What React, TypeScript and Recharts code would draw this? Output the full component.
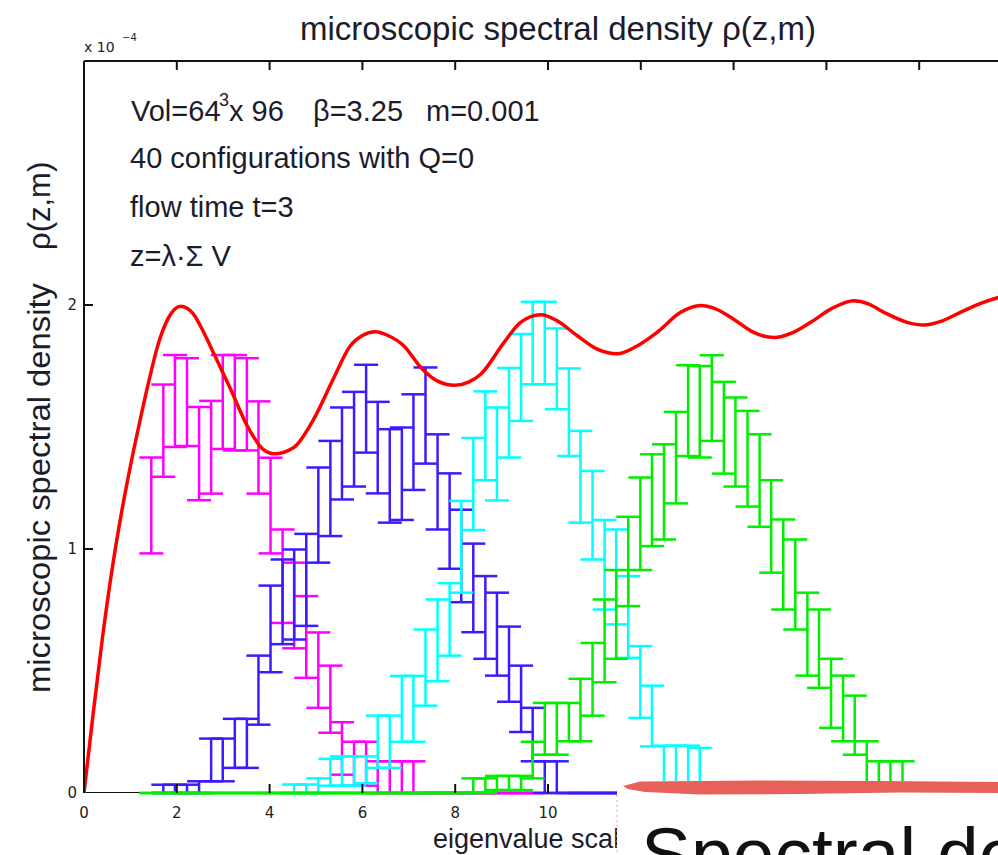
import React from 'react';
import { ComposedChart, Scatter, Line, XAxis, YAxis, ErrorBar } from 'recharts';

// bin centres of the histograms (eigenvalue scale z)
const binCentres = [
  1.45, 1.71, 1.96, 2.22, 2.48, 2.74, 2.99, 3.25, 3.51, 3.76,
  4.02, 4.28, 4.53, 4.79, 5.05, 5.31, 5.56, 5.82, 6.08, 6.33,
  6.59, 6.85, 7.10, 7.36, 7.62, 7.88, 8.13, 8.39, 8.65, 8.90,
  9.16, 9.42, 9.67, 9.93, 10.19, 10.45, 10.70, 10.96, 11.22, 11.47,
  11.73, 11.99, 12.24, 12.50, 12.76, 13.02, 13.27, 13.53, 13.79, 14.04,
  14.30, 14.56, 14.81, 15.07, 15.33, 15.59, 15.84, 16.10, 16.36, 16.61,
  16.87, 17.13, 17.38, 17.64, 17.90,
];

// 1st eigenvalue (magenta), starts at bin 0
const magentaStart = 0;
const magentaTop = [
  1.375, 1.674, 1.795, 1.782, 1.582, 1.607, 1.795, 1.795, 1.782, 1.605,
  1.374, 1.080, 0.944, 0.807, 0.658, 0.522, 0.290, 0.210, 0.210, 0.130,
  0.130, 0.130, 0.130, 0, 0, 0, 0, 0, 0, 0, 0, 0, 0,
];
const magentaBottom = [
  0.982, 1.296, 1.418, 1.422, 1.200, 1.227, 1.410, 1.404, 1.404, 1.227,
  0.982, 0.697, 0.593, 0.472, 0.349, 0.247, 0.075, 0.030, 0.030, 0,
  0, 0, 0, 0, 0, 0, 0, 0, 0, 0, 0, 0, 0,
];

// 2nd eigenvalue (blue), starts at bin 1
const blueStart = 1;
const blueTop = [
  0.034, 0.034, 0.034, 0.048,
  0.223, 0.223, 0.304, 0.304, 0.563, 0.850, 0.957, 0.998, 1.062, 1.334,
  1.443, 1.580, 1.644, 1.755, 1.603, 1.491, 1.498, 1.634, 1.744, 1.470,
  1.310, 1.161, 1.022, 0.889, 0.821, 0.682, 0.522, 0.349, 0.130, 0.130,
  0, 0, 0, 0, 0, 0, 0, 0, 0, 0, 0,
];
const blueBottom = [
  0, 0, 0, 0,
  0.048, 0.048, 0.103, 0.103, 0.280, 0.495, 0.610, 0.629, 0.685, 0.944,
  1.053, 1.203, 1.256, 1.395, 1.228, 1.108, 1.119, 1.242, 1.350, 1.080,
  0.919, 0.782, 0.659, 0.550, 0.481, 0.374, 0.250, 0.130, 0, 0,
  0, 0, 0, 0, 0, 0, 0, 0, 0, 0, 0,
];

// 3rd eigenvalue (cyan), starts at bin 12
const cyanStart = 12;
const cyanTop = [
  0.035, 0.035, 0.060, 0.140, 0.150, 0.150, 0.150, 0.317, 0.317, 0.480,
  0.480, 0.670, 0.793, 0.860, 1.197, 1.455, 1.646, 1.580, 1.742, 1.881,
  2.013, 2.013, 1.904, 1.740, 1.484, 1.320, 1.119, 1.080, 0.889, 0.602,
  0.440, 0.194, 0.194, 0.194, 0.185,
];
const cyanBottom = [
  0, 0, 0, 0.030, 0.030, 0.030, 0.040, 0.103, 0.103, 0.210,
  0.210, 0.358, 0.458, 0.563, 0.821, 1.078, 1.282, 1.199, 1.375, 1.525,
  1.675, 1.675, 1.573, 1.381, 1.108, 0.957, 0.752, 0.691, 0.554, 0.308,
  0.191, 0, 0, 0, 0,
];

// 4th eigenvalue (green), starts at bin 0
const greenStart = 0;
const greenTop = [
  0, 0, 0, 0, 0, 0, 0, 0, 0, 0, 0, 0, 0, 0, 0, 0, 0, 0, 0, 0, 0, 0, 0, 0, 0, 0, 0,
  0.060, 0.060, 0.070, 0.070, 0.070, 0.210, 0.369, 0.369, 0.369, 0.468,
  0.615, 0.793, 0.914, 1.132, 1.293, 1.388, 1.429, 1.562, 1.753, 1.750,
  1.794, 1.685, 1.621, 1.566, 1.470, 1.282, 1.121, 1.039, 0.821, 0.752,
  0.550, 0.481, 0.399, 0.212, 0.130, 0.130, 0.130,
];
const greenBottom = [
  0, 0, 0, 0, 0, 0, 0, 0, 0, 0, 0, 0, 0, 0, 0, 0, 0, 0, 0, 0, 0, 0, 0, 0, 0, 0, 0,
  0, 0, 0.012, 0.012, 0.012, 0.060, 0.157, 0.157, 0.212, 0.212,
  0.317, 0.454, 0.550, 0.766, 0.914, 1.012, 1.039, 1.187, 1.381, 1.375,
  1.443, 1.309, 1.256, 1.174, 1.091, 0.903, 0.752, 0.670, 0.481, 0.431,
  0.267, 0.212, 0.157, 0.020, 0, 0, 0,
];

// RMT prediction (red curve)
const redZ = [
  0, 0.2, 0.4, 0.6, 0.8, 1.0, 1.2, 1.4, 1.6, 1.8,
  2.08, 2.35, 2.6, 2.8, 3.16, 3.52, 3.85, 4.1, 4.52, 4.95,
  5.38, 5.74, 6.0, 6.28, 6.55, 6.89, 7.26, 7.61, 7.99, 8.3,
  8.55, 9.05, 9.41, 9.85, 10.2, 10.63, 11.06, 11.49, 11.9, 12.35,
  12.86, 13.29, 13.6, 14.0, 14.43, 14.87, 15.25, 15.66, 16.16, 16.59,
  16.9, 17.24, 17.74, 18.1, 18.5, 18.89, 19.3, 19.71,
];
const redRho = [
  0, 0.33, 0.64, 0.91, 1.14, 1.34, 1.52, 1.69, 1.84, 1.94,
  1.995, 1.965, 1.88, 1.80, 1.655, 1.504, 1.41, 1.39, 1.416, 1.532,
  1.70, 1.833, 1.875, 1.89, 1.875, 1.833, 1.744, 1.689, 1.671, 1.685,
  1.716, 1.846, 1.929, 1.96, 1.935, 1.874, 1.819, 1.80, 1.83, 1.888,
  1.97, 1.998, 1.985, 1.942, 1.888, 1.867, 1.885, 1.929, 1.99, 2.017,
  2.005, 1.970, 1.929, 1.918, 1.935, 1.970, 2.005, 2.031,
];

// x range of the plot frame (used for the bottom axis line)
const frameZ = [0, 20];

const xTicks = [0, 2, 4, 6, 8, 10, 12, 14, 16, 18, 20];
const yTicks = [0, 1, 2];
const X_MAX = 20;
const Y_MAX = 3;

// plot frame geometry (pixels)
const PLOT_LEFT = 84;
const PLOT_TOP = 61;
const PLOT_W = 928;
const PLOT_H = 732;
const TICK_LEN = 9;

// error given as [low, high] so that empty bins still draw their flat caps
const toBars = (start: number, top: number[], bottom: number[]) =>
  top.map((t, i) => {
    const half = (t - bottom[i]) / 2;
    return { x: binCentres[start + i], y: (t + bottom[i]) / 2, err: [half, half] };
  });

const magentaData = toBars(magentaStart, magentaTop, magentaBottom);
const blueData = toBars(blueStart, blueTop, blueBottom);
const cyanData = toBars(cyanStart, cyanTop, cyanBottom);
const greenData = toBars(greenStart, greenTop, greenBottom);
const redData = redZ.map((x, i) => ({ x, rho: redRho[i] }));
const baseData = frameZ.map((x) => ({ x, rho: 0 }));

const series = [
  { name: 'magenta', data: magentaData, color: '#ff00ff' },
  { name: 'blue', data: blueData, color: '#3a1cff' },
  { name: 'cyan', data: cyanData, color: '#00ffff' },
  { name: 'green', data: greenData, color: '#00ee00' },
];

const axisStroke = { stroke: '#111', strokeWidth: 2 };
const tickFont = { fontSize: 15, fill: '#222', fontFamily: '"DejaVu Sans", sans-serif' };
const textFont = '"Liberation Sans", Arial, sans-serif';

const noDot = () => <g />;
const noLabel = () => <g />;

// frame tick positions, same linear mapping as the chart's axes
const tickX = (v: number) => PLOT_LEFT + (v / X_MAX) * PLOT_W;
const tickY = (v: number) => PLOT_TOP + PLOT_H - (v / Y_MAX) * PLOT_H;

export default function App() {
  return (
    <div
      style={{
        position: 'absolute',
        left: 0,
        top: 0,
        width: 998,
        height: 855,
        overflow: 'hidden',
        background: '#fff',
        fontFamily: textFont,
      }}
    >
      <ComposedChart
        width={PLOT_LEFT + PLOT_W + 10}
        height={855}
        margin={{ top: PLOT_TOP, right: 10, bottom: 0, left: 0 }}
      >
        <XAxis
          xAxisId="x"
          type="number"
          dataKey="x"
          domain={[0, X_MAX]}
          ticks={xTicks}
          interval={0}
          allowDataOverflow
          height={855 - PLOT_TOP - PLOT_H}
          axisLine={false}
          tickLine={false}
          tickSize={6}
          tickMargin={8}
          tick={tickFont}
          tickFormatter={(v: number) => (v <= 10 ? String(v) : '')}
        />
        <YAxis
          yAxisId="y"
          type="number"
          domain={[0, Y_MAX]}
          ticks={yTicks}
          interval={0}
          allowDataOverflow
          width={PLOT_LEFT}
          axisLine={axisStroke}
          tickLine={false}
          tickSize={4}
          tickMargin={3}
          tick={tickFont}
        />
        {/* top frame with inward ticks */}
        <XAxis
          xAxisId="xtop"
          orientation="top"
          type="number"
          dataKey="x"
          domain={[0, X_MAX]}
          ticks={xTicks}
          interval={0}
          allowDataOverflow
          mirror
          tick={noLabel}
          axisLine={axisStroke}
          tickLine={axisStroke}
          tickSize={TICK_LEN}
        />

        {/* bottom frame line, drawn first so the zero bins cover it */}
        <Line
          xAxisId="x"
          yAxisId="y"
          data={baseData}
          dataKey="rho"
          stroke="#111"
          strokeWidth={2}
          dot={false}
          isAnimationActive={false}
        />

        {series.map((s) => (
          <Scatter
            key={s.name}
            xAxisId="x"
            yAxisId="y"
            data={s.data}
            dataKey="y"
            shape={noDot}
            isAnimationActive={false}
          >
            <ErrorBar
              dataKey="err"
              direction="y"
              width={12}
              stroke={s.color}
              strokeWidth={2.5}
              isAnimationActive={false}
            />
          </Scatter>
        ))}

        <Line
          xAxisId="x"
          yAxisId="y"
          data={redData}
          dataKey="rho"
          type="monotone"
          stroke="#ff0000"
          strokeWidth={3.5}
          dot={false}
          isAnimationActive={false}
        />
      </ComposedChart>

      <svg
        width={998}
        height={855}
        style={{ position: 'absolute', left: 0, top: 0, pointerEvents: 'none' }}
        fontFamily={textFont}
      >
        {/* inward ticks of the bottom and left frame */}
        <g stroke="#111" strokeWidth={2}>
          {xTicks.slice(1).map((t) => (
            <line
              key={`bx${t}`}
              x1={tickX(t)}
              x2={tickX(t)}
              y1={tickY(0)}
              y2={tickY(0) - TICK_LEN}
            />
          ))}
          {yTicks.slice(1).map((t) => (
            <line
              key={`ly${t}`}
              x1={tickX(0)}
              x2={tickX(0) + TICK_LEN}
              y1={tickY(t)}
              y2={tickY(t)}
            />
          ))}
        </g>

        {/* title */}
        <text x={300} y={40} fontSize={33} fill="#1c1c2a" textLength={516} lengthAdjust="spacingAndGlyphs">
          microscopic spectral density ρ(z,m)
        </text>

        {/* axis multiplier */}
        <text x={84} y={52} fontSize={14} fill="#222" fontFamily='"DejaVu Sans", sans-serif'>
          x 10
        </text>
        <text x={122} y={41} fontSize={10} fill="#222" fontFamily='"DejaVu Sans", sans-serif'>
          −4
        </text>

        {/* annotations */}
        <g fontSize={29} fill="#1c1c2a">
          <text x={131} y={121}>Vol=64</text>
          <text x={219} y={106} fontSize={18}>3</text>
          <text x={229} y={121}>x 96</text>
          <text x={313} y={121}>β=3.25</text>
          <text x={426} y={121}>m=0.001</text>
          <text x={130} y={168}>40 configurations with Q=0</text>
          <text x={130} y={217}>flow time t=3</text>
          <text x={130} y={266}>z=λ·Σ V</text>
        </g>

        {/* y label */}
        <g transform="translate(50 693) rotate(-90)">
          <text x={0} y={0} fontSize={31} fill="#1c1c2a" textLength={410} lengthAdjust="spacingAndGlyphs">
            microscopic spectral density
          </text>
          <text x={443} y={0} fontSize={31} fill="#1c1c2a">
            ρ(z,m)
          </text>
        </g>

        {/* x label */}
        <text x={433} y={848} fontSize={27} fill="#1c1c2a">
          eigenvalue scale z
        </text>

        {/* pasted caption box */}
        <rect x={617} y={781} width={381} height={74} fill="#fff" />
        <line x1={617} y1={795} x2={617} y2={855} stroke="#f0a0a0" strokeWidth={1} strokeDasharray="2 3" />
        <path
          d="M623 786 L640 781.5 L760 780.5 L880 781 L998 782 L998 793 L900 792.5 L800 794 L700 794.5 L645 792 L628 789 Z"
          fill="#e8605a"
        />
        <text x={641} y={880} fontSize={75} fill="#111">
          Spectral density
        </text>
      </svg>
    </div>
  );
}
